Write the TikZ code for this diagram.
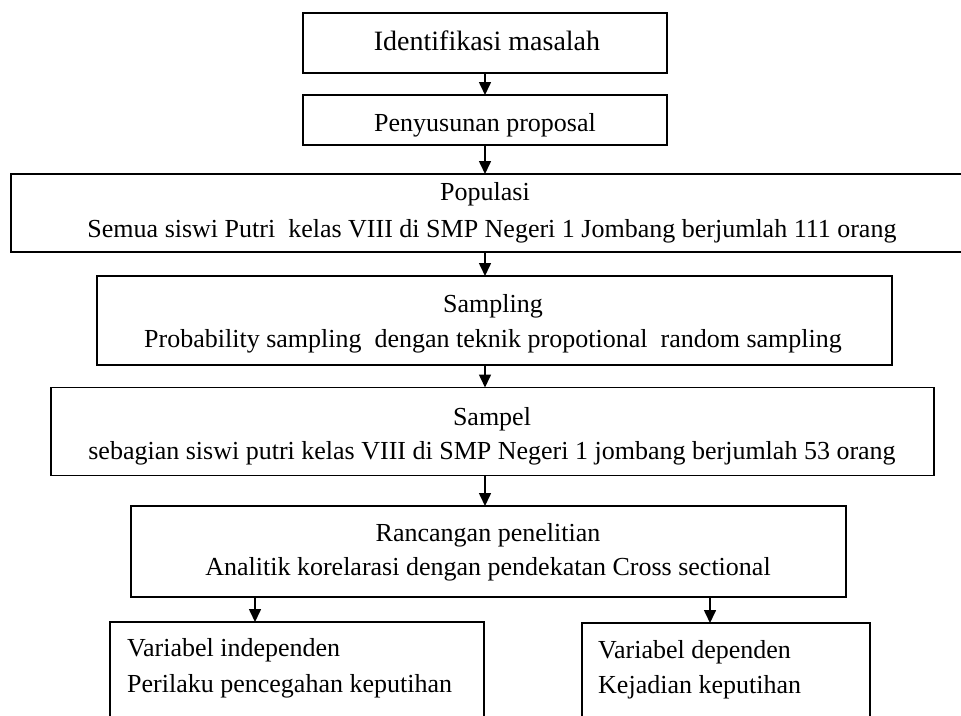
\documentclass[tikz,border=0pt]{standalone}
\usepackage{fontspec}
\setmainfont{Liberation Serif}
\usetikzlibrary{arrows.meta}
\begin{document}
\begin{tikzpicture}[x=1pt,y=-1pt,
  box/.style={draw, line width=1.6pt, rectangle, inner sep=0pt, outer sep=0pt},
  txt/.style={inner sep=0pt, anchor=base, font=\fontsize{26pt}{30pt}\selectfont},
  ltxt/.style={txt, anchor=base west},
  arr/.style={line width=1.6pt, -{Triangle[width=12pt,length=13pt]}}]
\useasboundingbox (0,0) rectangle (961,715);
\clip (0,0) rectangle (961,715);
\coordinate (cx) at (485,0);
\coordinate (lx) at (255,0);
\coordinate (rx) at (710,0);
% boxes
\node[box, minimum width=364pt, minimum height=60pt] (b1) at (485,43) {};
\node[box, minimum width=364pt, minimum height=50pt] (b2) at (485,120) {};
\node[box, minimum width=974pt, minimum height=78pt] (b3) at (498,213) {};
\node[box, minimum width=795pt, minimum height=89pt] (b4) at (494.5,320.5) {};
\node[box, minimum width=883pt, minimum height=88pt] (b5) at (492.5,431.5) {};
\node[box, minimum width=715pt, minimum height=91pt] (b6) at (488.5,551.5) {};
\node[box, minimum width=374pt, minimum height=130pt] (b7) at (297,687) {};
\node[box, minimum width=288pt, minimum height=130pt] (b8) at (726,688) {};
% texts
\node[txt, font=\fontsize{28pt}{32pt}\selectfont] (t1) at (487,50) {Identifikasi masalah};
\node[txt] (t2) at (485,131) {Penyusunan proposal};
\node[txt] (t3a) at (485,200) {Populasi};
\node[txt] (t3b) at (492,237) {Semua siswi Putri\ \ kelas VIII di SMP Negeri 1 Jombang berjumlah 111 orang};
\node[txt] (t4a) at (493,312) {Sampling};
\node[txt] (t4b) at (493,347) {Probability sampling\ \ dengan teknik propotional\ \ random sampling};
\node[txt] (t5a) at (492,425) {Sampel};
\node[txt] (t5b) at (492,459) {sebagian siswi putri kelas VIII di SMP Negeri 1 jombang berjumlah 53 orang};
\node[txt] (t6a) at (488,541) {Rancangan penelitian};
\node[txt] (t6b) at (488,575) {Analitik korelarasi dengan pendekatan Cross sectional};
\node[ltxt] (t7a) at (127,656) {Variabel independen};
\node[ltxt] (t7b) at (127,692) {Perilaku pencegahan keputihan};
\node[ltxt] (t8a) at (598,658) {Variabel dependen};
\node[ltxt] (t8b) at (598,693) {Kejadian keputihan};
% arrows
\draw[arr] (b1.south) -- (b2.north);
\draw[arr] (b2.south) -- (b3.north -| cx);
\draw[arr] (b3.south -| cx) -- (b4.north -| cx);
\draw[arr] (b4.south -| cx) -- (b5.north -| cx);
\draw[arr] (b5.south -| cx) -- (b6.north -| cx);
\draw[arr] (b6.south -| lx) -- (b7.north -| lx);
\draw[arr] (b6.south -| rx) -- (b8.north -| rx);
\end{tikzpicture}
\end{document}
